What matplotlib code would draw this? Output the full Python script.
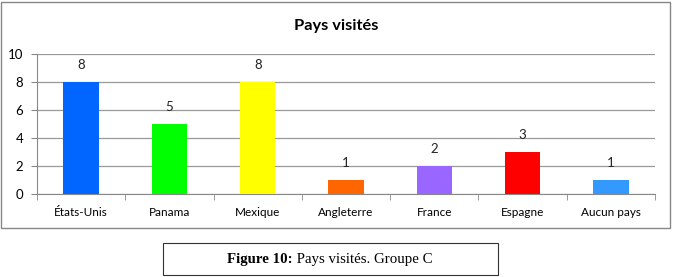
import matplotlib
matplotlib.use("Agg")
import matplotlib.pyplot as plt
from matplotlib.patches import Rectangle

categories = ["États-Unis", "Panama", "Mexique", "Angleterre", "France", "Espagne", "Aucun pays"]
values = [8, 5, 8, 1, 2, 3, 1]
colors = ["#0066FF", "#00FF00", "#FFFF00", "#FF6600", "#9966FF", "#FF0000", "#3399FF"]
yticks = [0, 2, 4, 6, 8, 10]
title = "Pays visités"
caption_bold = "Figure 10:"
caption_rest = " Pays visités. Groupe C"

plt.rcParams['font.family'] = ['Lato', 'DejaVu Sans']

W, H = 676, 277
fig = plt.figure(figsize=(W / 100, H / 100), dpi=100)
ax = fig.add_axes([37 / W, 1 - 194 / H, (655 - 37) / W, (194 - 54) / H])

x = list(range(len(categories)))
bars = ax.bar(x, values, width=0.4, color=colors, zorder=3)
for xi, v in zip(x, values):
    ax.annotate(str(v), (xi, v), xytext=(0, 8), textcoords="offset points",
                ha="center", va="bottom", fontsize=9.5, color="#222222", zorder=4)

ax.set_xlim(-0.5, len(categories) - 0.5)
ax.set_ylim(0, 10)
ax.set_yticks(yticks)
ax.set_xticks(x)
ax.set_xticklabels(categories, fontsize=8.5)
ax.set_xticks([i - 0.5 for i in range(len(categories) + 1)], minor=True)
ax.tick_params(axis="x", which="major", length=0, pad=9)
ax.tick_params(axis="x", which="minor", length=4, color="#888888")
ax.tick_params(axis="y", length=4, color="#888888", labelsize=9.5, pad=6)
ax.grid(axis="y", color="#999999", linewidth=0.9, zorder=0)
for s in ["top", "right"]:
    ax.spines[s].set_visible(False)
for s in ["left", "bottom"]:
    ax.spines[s].set_color("#888888")

fig.text(336 / W, 1 - 26 / H, title, ha="center", va="center", fontsize=11.8, fontweight="bold")

# outer chart frame
fig.patches.append(Rectangle((1 / W, 1 - 228 / H), 669 / W, 226 / H, transform=fig.transFigure,
                             fill=False, edgecolor="#888888", linewidth=1.0))
# caption box
fig.patches.append(Rectangle((163 / W, 1 - 275 / H), 335 / W, 32 / H, transform=fig.transFigure,
                             fill=False, edgecolor="#333333", linewidth=0.8))
t1 = fig.text(0, 0, caption_bold, fontsize=10.7, fontweight="bold", family="Liberation Serif")
t2 = fig.text(0, 0, caption_rest, fontsize=10.7, family="Liberation Serif")
fig.canvas.draw()
r = fig.canvas.get_renderer()
w1 = t1.get_window_extent(r).width
w2 = t2.get_window_extent(r).width
x0 = 330 - (w1 + w2) / 2
t1.set_position((x0 / W, 1 - 259 / H)); t1.set_va("center")
t2.set_position(((x0 + w1) / W, 1 - 259 / H)); t2.set_va("center")

fig.savefig("out.png", dpi=100)
